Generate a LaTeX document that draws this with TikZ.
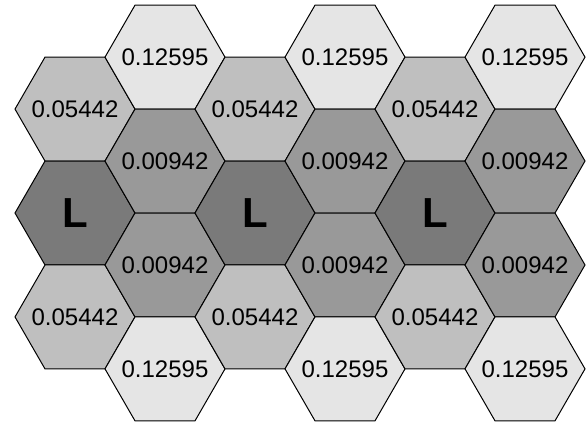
\documentclass[tikz,border=0pt]{standalone}
\usepackage{fontspec}
\setmainfont{Liberation Sans}
\usepackage{tikz}

% one flat-topped hexagon cell with its value in the middle
\newcommand{\hexcell}[5]{%
  \draw[cell, #1] (#3,#4) +(-60,0) -- +(-30,-51.96) -- +(30,-51.96) -- +(60,0) -- +(30,51.96) -- +(-30,51.96) -- cycle;
  \node[celltext] (#2) at (#3,#4) {#5};}

\begin{document}
\begin{tikzpicture}[x=1pt, y=-1pt,
  cell/.style={draw, line width=1pt, line join=miter},
  celltext/.style={inner sep=0pt, font=\fontsize{24}{24}\selectfont},
  farcell/.style={fill=black!10},
  midcell/.style={fill=black!25},
  adjcell/.style={fill=black!40},
  lcell/.style={fill=black!52}
]
  \useasboundingbox (0,0) rectangle (586,421);

  % column 1
  \hexcell{midcell}{mid1}{75}{109.08}{0.05442}
  \hexcell{lcell}{la}{75}{213}{\fontsize{42}{42}\selectfont\bfseries L}
  \hexcell{midcell}{mid2}{75}{316.92}{0.05442}
  % column 2
  \hexcell{farcell}{far1}{165}{57.12}{0.12595}
  \hexcell{adjcell}{adj1}{165}{161.04}{0.00942}
  \hexcell{adjcell}{adj2}{165}{264.96}{0.00942}
  \hexcell{farcell}{far2}{165}{368.88}{0.12595}
  % column 3
  \hexcell{midcell}{mid3}{255}{109.08}{0.05442}
  \hexcell{lcell}{lb}{255}{213}{\fontsize{42}{42}\selectfont\bfseries L}
  \hexcell{midcell}{mid4}{255}{316.92}{0.05442}
  % column 4
  \hexcell{farcell}{far3}{345}{57.12}{0.12595}
  \hexcell{adjcell}{adj3}{345}{161.04}{0.00942}
  \hexcell{adjcell}{adj4}{345}{264.96}{0.00942}
  \hexcell{farcell}{far4}{345}{368.88}{0.12595}
  % column 5
  \hexcell{midcell}{mid5}{435}{109.08}{0.05442}
  \hexcell{lcell}{lc}{435}{213}{\fontsize{42}{42}\selectfont\bfseries L}
  \hexcell{midcell}{mid6}{435}{316.92}{0.05442}
  % column 6
  \hexcell{farcell}{far5}{525}{57.12}{0.12595}
  \hexcell{adjcell}{adj5}{525}{161.04}{0.00942}
  \hexcell{adjcell}{adj6}{525}{264.96}{0.00942}
  \hexcell{farcell}{far6}{525}{368.88}{0.12595}
\end{tikzpicture}
\end{document}
